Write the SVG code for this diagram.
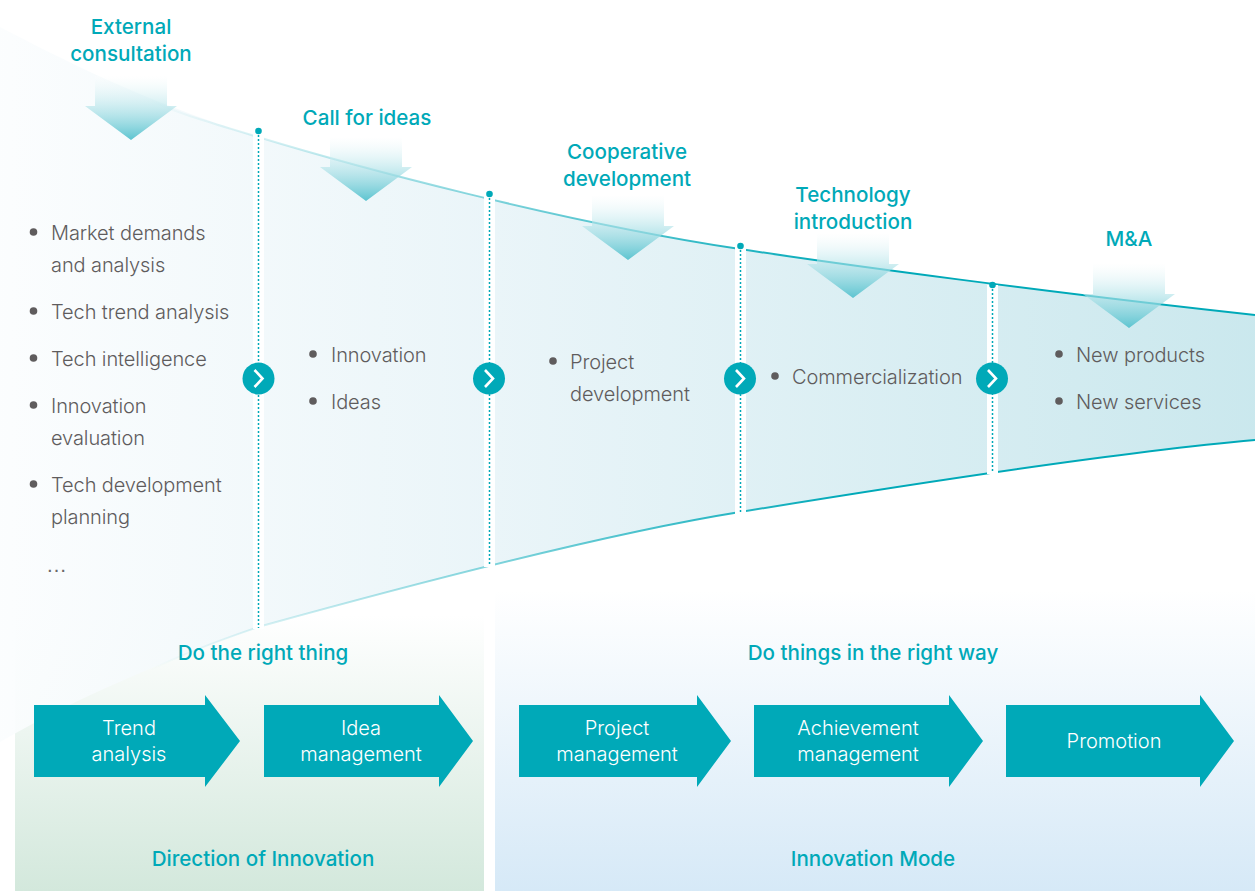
<svg xmlns="http://www.w3.org/2000/svg" width="1255" height="891" viewBox="0 0 1255 891">
<style>
text{font-family:Inter,"Liberation Sans",Arial,sans-serif}
.h{font-size:20.6px;font-weight:500;fill:#00a9b8;text-anchor:middle}
.b{font-size:20px;font-weight:300;letter-spacing:-.1px;fill:#5f5c5d}
.e{font-family:"Liberation Sans",Arial,sans-serif;font-size:21px;fill:#6b6869}
.w{font-size:20px;font-weight:300;fill:#fff;text-anchor:middle}
.bar{fill:#00a9b8}
.dn{fill:url(#dg)}
.stripe{fill:#fff}
.dot{stroke:#00a9b8;stroke-width:1.5;stroke-dasharray:2 2;fill:none}
.tip{fill:#00a9b8}
.chev{fill:none;stroke:#fff;stroke-width:2.6}
.bl{fill:#5f5c5d}
</style>
<defs>
<linearGradient id="fun" gradientUnits="userSpaceOnUse" x1="0" y1="0" x2="1255" y2="0"><stop offset="0" stop-color="#fbfdfe"/><stop offset=".4" stop-color="#e8f4f8"/><stop offset="1" stop-color="#c6e6ec"/></linearGradient>
<linearGradient id="ln" gradientUnits="userSpaceOnUse" x1="150" y1="0" x2="850" y2="0"><stop offset="0" stop-color="#00a9b8" stop-opacity="0"/><stop offset="1" stop-color="#00a9b8"/></linearGradient>
<linearGradient id="pg" x1="0" y1="0" x2="0" y2="1"><stop offset="0" stop-color="#fff"/><stop offset="1" stop-color="#d3e8dc"/></linearGradient>
<linearGradient id="pb" x1="0" y1="0" x2="0" y2="1"><stop offset="0" stop-color="#fff"/><stop offset="1" stop-color="#d6e9f7"/></linearGradient>
<linearGradient id="dg" x1="0" y1="0" x2="0" y2="1"><stop offset="0" stop-color="#fff" stop-opacity=".25"/><stop offset="1" stop-color="#5cc4d0"/></linearGradient>
</defs>

<g id="backdrop">
<rect x="15" y="615" width="469" height="276" fill="url(#pg)"/>
<rect x="495" y="590" width="760" height="301" fill="url(#pb)"/>
<path d="M0 27C60 58 140 100 258 137C350 165 560 222 740 249C830 263 1060 294 1255 315V440C1130 451 960 476 740 512C640 528 500 560 258 627C180 655 80 695 0 742Z" fill="url(#fun)" fill-opacity=".92"/>
</g>

<g id="connectors">
<path d="M150 100C180 115 220 125 258 137C350 165 560 222 740 249C830 263 1060 294 1255 315" fill="none" stroke="url(#ln)" stroke-width="2"/>
<path d="M150 670C180 655 220 640 258 627C500 560 640 528 740 512C960 476 1130 451 1255 440" fill="none" stroke="url(#ln)" stroke-width="2"/>
<rect class="stripe" x="253" y="131" width="11" height="498"/>
<rect class="stripe" x="484" y="194" width="11" height="373"/>
<rect class="stripe" x="735" y="246" width="11" height="268"/>
<rect class="stripe" x="987" y="285" width="11" height="189"/>
<path class="dot" d="M258.500 131V628"/>
<path class="dot" d="M489.500 194V565"/>
<path class="dot" d="M740.500 246V512"/>
<path class="dot" d="M992.500 285V472"/>
<circle class="tip" cx="258.500" cy="131" r="3.300"/>
<circle class="tip" cx="489.500" cy="194" r="3.300"/>
<circle class="tip" cx="740.500" cy="246" r="3.300"/>
<circle class="tip" cx="992.500" cy="285" r="3.300"/>
</g>

<g id="chevrons">
<circle class="tip" cx="258.500" cy="378.500" r="16"/><path class="chev" d="M254.500 370l8 8.500-8 8.500"/>
<circle class="tip" cx="489" cy="378.500" r="16"/><path class="chev" d="M485 370l8 8.500-8 8.500"/>
<circle class="tip" cx="740" cy="378.500" r="16"/><path class="chev" d="M736 370l8 8.500-8 8.500"/>
<circle class="tip" cx="992" cy="378.500" r="16"/><path class="chev" d="M988 370l8 8.500-8 8.500"/>
</g>

<g id="external"><path class="dn" d="M95 76H167V106H177L131 140L85 106H95Z"/><text class="h" x="131" y="34">External</text><text class="h" x="131" y="61">consultation</text></g>
<g id="call"><path class="dn" d="M330 137H402V167H412L366 201L320 167H330Z"/><text class="h" x="367" y="125">Call for ideas</text></g>
<g id="cooperative"><path class="dn" d="M592 195H664V226H674L628 260L582 226H592Z"/><text class="h" x="627" y="159">Cooperative</text><text class="h" x="627" y="186">development</text></g>
<g id="technology"><path class="dn" d="M817 233H889V264H899L853 298L807 264H817Z"/><text class="h" x="853" y="202">Technology</text><text class="h" x="853" y="229">introduction</text></g>
<g id="ma"><path class="dn" d="M1093 263H1165V294H1175L1129 328L1083 294H1093Z"/><text class="h" x="1129" y="246">M&amp;A</text></g>

<g id="list1">
<circle class="bl" cx="33.500" cy="232" r="3.800"/><text class="b" x="51" y="240">Market demands</text><text class="b" x="51" y="272">and analysis</text>
<circle class="bl" cx="33.500" cy="311" r="3.800"/><text class="b" x="51" y="319">Tech trend analysis</text>
<circle class="bl" cx="33.500" cy="358" r="3.800"/><text class="b" x="51" y="366">Tech intelligence</text>
<circle class="bl" cx="33.500" cy="405" r="3.800"/><text class="b" x="51" y="413">Innovation</text><text class="b" x="51" y="445">evaluation</text>
<circle class="bl" cx="33.500" cy="484" r="3.800"/><text class="b" x="51" y="492">Tech development</text><text class="b" x="51" y="524">planning</text>
<text class="e" x="46" y="572">…</text>
</g>
<g id="list2">
<circle class="bl" cx="313" cy="354" r="3.800"/><text class="b" x="331" y="362">Innovation</text>
<circle class="bl" cx="313" cy="401" r="3.800"/><text class="b" x="331" y="409">Ideas</text>
</g>
<g id="list3">
<circle class="bl" cx="553" cy="361" r="3.800"/><text class="b" x="570" y="369">Project</text><text class="b" x="570" y="401">development</text>
</g>
<g id="list4">
<circle class="bl" cx="775" cy="376" r="3.800"/><text class="b" x="792" y="384">Commercialization</text>
</g>
<g id="list5">
<circle class="bl" cx="1059" cy="354" r="3.800"/><text class="b" x="1076" y="362">New products</text>
<circle class="bl" cx="1059" cy="401" r="3.800"/><text class="b" x="1076" y="409">New services</text>
</g>

<g id="trend"><path class="bar" d="M34 705H205V695L240 741L205 787V777H34Z"/><text class="w" x="129" y="735">Trend</text><text class="w" x="129" y="761">analysis</text></g>
<g id="idea"><path class="bar" d="M264 705H439V695L473 741L439 787V777H264Z"/><text class="w" x="361" y="735">Idea</text><text class="w" x="361" y="761">management</text></g>
<g id="project"><path class="bar" d="M519 705H697V695L731 741L697 787V777H519Z"/><text class="w" x="617" y="735">Project</text><text class="w" x="617" y="761">management</text></g>
<g id="achievement"><path class="bar" d="M754 705H949V695L983 741L949 787V777H754Z"/><text class="w" x="858" y="735">Achievement</text><text class="w" x="858" y="761">management</text></g>
<g id="promotion"><path class="bar" d="M1006 705H1200V695L1234 741L1200 787V777H1006Z"/><text class="w" x="1114" y="748">Promotion</text></g>

<g id="captions">
<text class="h" x="263" y="660">Do the right thing</text>
<text class="h" x="873" y="660">Do things in the right way</text>
<text class="h" x="263" y="866">Direction of Innovation</text>
<text class="h" x="873" y="866">Innovation Mode</text>
</g>
</svg>
